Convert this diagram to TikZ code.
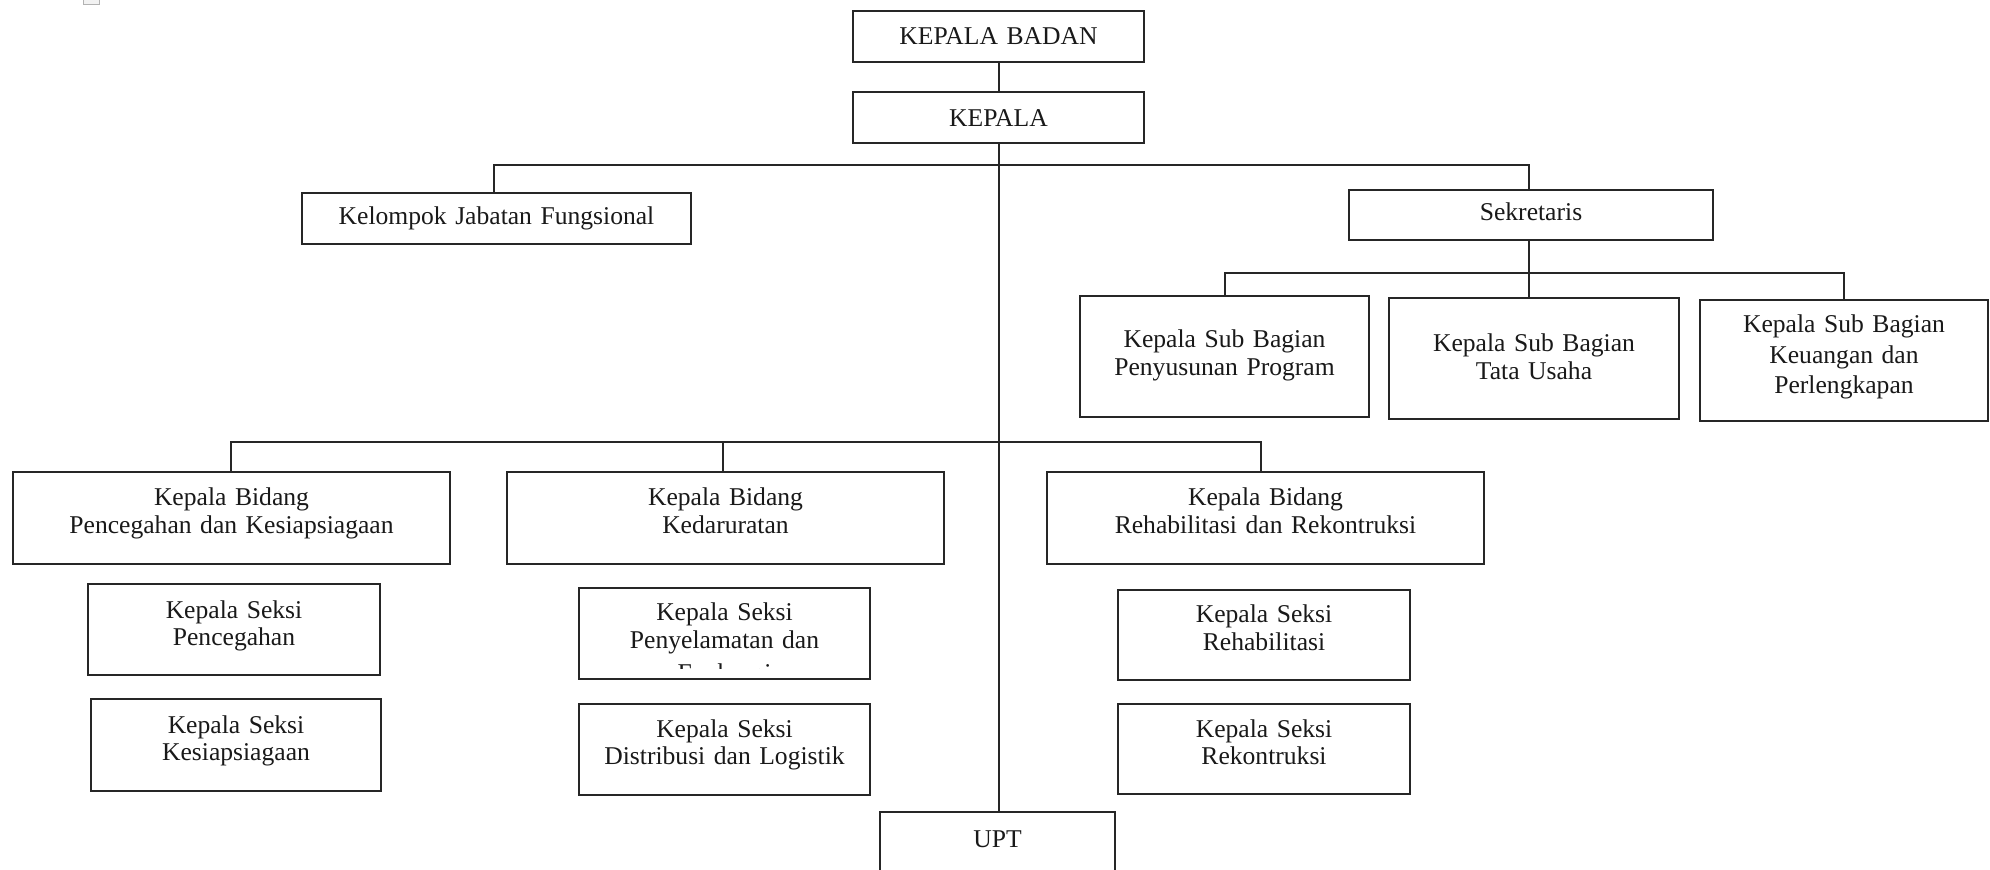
\documentclass[tikz,border=0pt]{standalone}
\usepackage{fontspec}
\setmainfont{Liberation Serif}
\usetikzlibrary{calc}
\tikzset{
  obx/.style={draw=black!85, line width=1pt, rectangle, inner sep=0pt, outer sep=0pt},
  otx/.style={inner sep=0pt, outer sep=0pt, align=center, text=black!90,
              font=\fontsize{12.8pt}{13.75pt}\selectfont},
  conn/.style={draw=black!85, line width=1pt}
}
\newcommand\obox[7]{%
  \pgfmathsetmacro\bw{(#4-#2)*0.5}%
  \pgfmathsetmacro\bh{(#5-#3)*0.5}%
  \node[obx, minimum width=\bw pt, minimum height=\bh pt, anchor=north west] (#1) at (#2,#3) {};
  \node[otx, text width=\bw pt, anchor=base] (#1-t) at ([yshift=-#6*0.5pt]#1.north) {#7};
}
\begin{document}
\begin{tikzpicture}[x=0.5pt, y=-0.5pt]
\useasboundingbox (0,0) rectangle (1990,870);
\clip (0,0) rectangle (1990,870);
\fill[white] (0,0) rectangle (1990,870);
% small mark at top left
\node[draw=gray!60, fill=gray!10, line width=0.5pt, minimum width=8pt, minimum height=5pt, inner sep=0pt, anchor=north west] (mark) at (83,-6) {};

\obox{kb}{853}{11}{1144}{62}{34}{KEPALA BADAN}
\obox{k}{853}{92}{1144}{143}{35}{KEPALA}
\obox{kjf}{302}{193}{691}{244}{32}{Kelompok Jabatan Fungsional}
\obox{sek}{1349}{190}{1713}{240}{31}{Sekretaris}
\obox{pp}{1080}{296}{1369}{417}{52}{Kepala Sub Bagian\\Penyusunan Program}
\obox{tu}{1389}{298}{1679}{419}{54}{Kepala Sub Bagian\\Tata Usaha}
\obox{ku}{1700}{300}{1988}{421}{33}{Kepala Sub Bagian\\[1.5pt]Keuangan dan\\[1.5pt]Perlengkapan}

\obox{bp}{13}{472}{450}{564}{34}{Kepala Bidang\\Pencegahan dan Kesiapsiagaan}
\obox{kd}{507}{472}{944}{564}{34}{Kepala Bidang\\Kedaruratan}
\obox{rr}{1047}{472}{1484}{564}{34}{Kepala Bidang\\Rehabilitasi dan Rekontruksi}

\obox{sp}{88}{584}{380}{675}{34}{Kepala Seksi\\Pencegahan}
\obox{sk}{91}{699}{381}{791}{34}{Kepala Seksi\\Kesiapsiagaan}
\obox{spe}{579}{588}{870}{679}{33}{Kepala Seksi\\Penyelamatan dan}
\obox{sd}{579}{704}{870}{795}{33}{Kepala Seksi\\Distribusi dan Logistik}
\obox{sr}{1118}{590}{1410}{680}{33}{Kepala Seksi\\Rehabilitasi}
\obox{sre}{1118}{704}{1410}{794}{33}{Kepala Seksi\\Rekontruksi}

\obox{upt}{880}{812}{1115}{900}{35}{UPT}

% clipped third line of the Penyelamatan box
\begin{scope}
  \clip (579,588) rectangle (870,668);
  \node[otx, anchor=base] (evak) at (724.5,682) {Evakuasi};
\end{scope}

% connectors
\coordinate (bus1) at (998,165);
\coordinate (bus2) at (1528.5,273);
\coordinate (bus3) at (998,442);
\draw[conn] (kb.south) -- (k.north);
\draw[conn] (k.south) -- (k.south |- upt.north);
\draw[conn] ([xshift=-1.25pt]kjf.north) |- (bus1) -| ([xshift=-1.25pt]sek.north);
\draw[conn] ([xshift=-1.25pt]sek.south) -- ([xshift=-1.25pt]sek.south |- tu.north);
\draw[conn] (pp.north) |- (bus2) -| (ku.north);
\draw[conn] ([xshift=-0.25pt]bp.north) |- (bus3) -| ([xshift=-2.25pt]rr.north);
\draw[conn] ([xshift=-1.25pt]kd.north) -- ([xshift=-1.25pt]kd.north |- bus3);
\end{tikzpicture}
\end{document}
